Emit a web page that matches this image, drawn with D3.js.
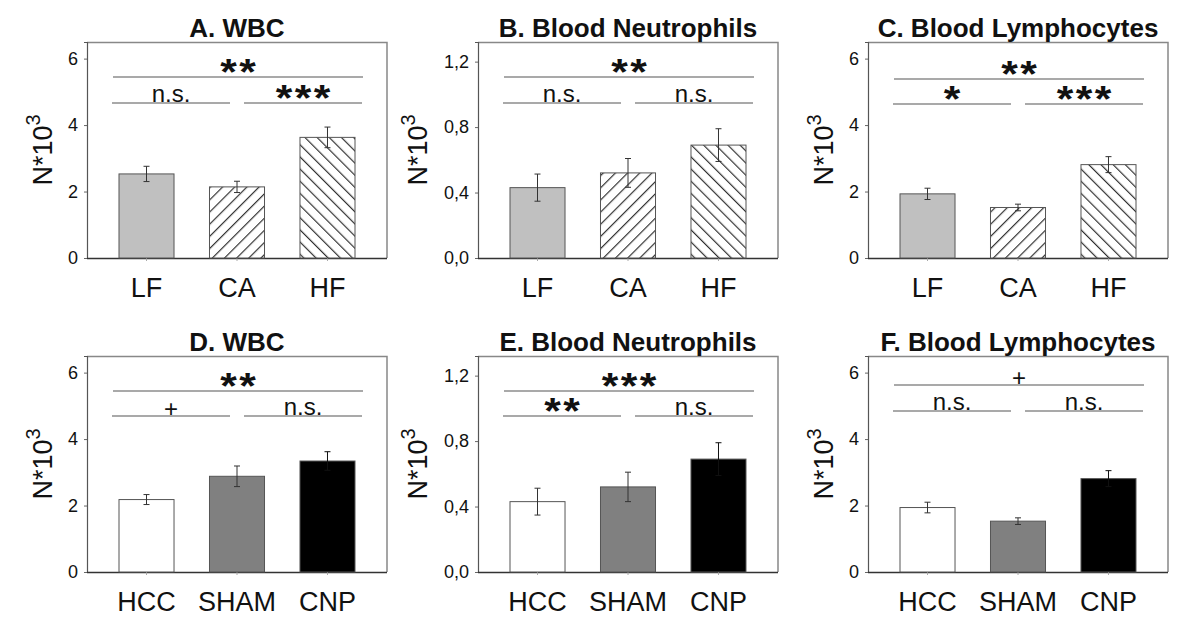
<!DOCTYPE html>
<html>
<head>
<meta charset="utf-8">
<script src="https://cdn.jsdelivr.net/npm/d3@7/dist/d3.min.js"></script>
<style>
  html, body { margin: 0; padding: 0; background: #fff; }
  svg { display: block; font-family: "Liberation Sans", Arial, Helvetica, sans-serif; }
</style>
</head>
<body>
<svg id="chart" width="1200" height="631"></svg>
<script>
// ---------------- DATA ----------------
const groupsTop = ["LF", "CA", "HF"];
const groupsBottom = ["HCC", "SHAM", "CNP"];

const wbcA = [2.53, 2.14, 3.63];
const wbcAErr = [0.23, 0.17, 0.31];
const neutB = [0.43, 0.52, 0.69];
const neutBErr = [0.083, 0.088, 0.10];
const lymC = [1.93, 1.52, 2.81];
const lymCErr = [0.17, 0.10, 0.24];

const wbcD = [2.18, 2.88, 3.34];
const wbcDErr = [0.15, 0.31, 0.28];
const neutE = [0.43, 0.52, 0.69];
const neutEErr = [0.082, 0.09, 0.10];
const lymF = [1.94, 1.53, 2.81];
const lymFErr = [0.16, 0.10, 0.24];

const ticksCount = [0, 2, 4, 6];
const ticksNeut = [0, 0.4, 0.8, 1.2];
const maxCount = 6.5;
const maxNeut = 1.32;

const titles = ["A. WBC", "B. Blood Neutrophils", "C. Blood Lymphocytes",
                "D. WBC", "E. Blood Neutrophils", "F. Blood Lymphocytes"];
// significance: [left pair, right pair, overall]
const sigA = ["n.s.", "***", "**"];
const sigB = ["n.s.", "n.s.", "**"];
const sigC = ["*", "***", "**"];
const sigD = ["+", "n.s.", "**"];
const sigE = ["**", "n.s.", "***"];
const sigF = ["n.s.", "n.s.", "+"];

const yLabel = "N*10";
const yLabelSup = "3";

// ---------------- LAYOUT ----------------
const frameLefts = [87, 478, 868];
const frameTops = [42, 356];
const frameW = 300, frameH = 216;

const panels = [
  {title: titles[0], cats: groupsTop, vals: wbcA, errs: wbcAErr, ticks: ticksCount, max: maxCount, sig: sigA, fills: ["g", "fwd", "back"], col: 0, row: 0, sigY: [61, 35]},
  {title: titles[1], cats: groupsTop, vals: neutB, errs: neutBErr, ticks: ticksNeut, max: maxNeut, sig: sigB, fills: ["g", "fwd", "back"], col: 1, row: 0, sigY: [61, 35]},
  {title: titles[2], cats: groupsTop, vals: lymC, errs: lymCErr, ticks: ticksCount, max: maxCount, sig: sigC, fills: ["g", "fwd", "back"], col: 2, row: 0, sigY: [62, 37]},
  {title: titles[3], cats: groupsBottom, vals: wbcD, errs: wbcDErr, ticks: ticksCount, max: maxCount, sig: sigD, fills: ["w", "m", "k"], col: 0, row: 1, sigY: [60, 35]},
  {title: titles[4], cats: groupsBottom, vals: neutE, errs: neutEErr, ticks: ticksNeut, max: maxNeut, sig: sigE, fills: ["w", "m", "k"], col: 1, row: 1, sigY: [60, 35]},
  {title: titles[5], cats: groupsBottom, vals: lymF, errs: lymFErr, ticks: ticksCount, max: maxCount, sig: sigF, fills: ["w", "m", "k"], col: 2, row: 1, sigY: [55, 29]}
];

const svg = d3.select("#chart");
const defs = svg.append("defs");

function hatch(id, angle) {
  const p = defs.append("pattern")
    .attr("id", id)
    .attr("patternUnits", "userSpaceOnUse")
    .attr("width", 8.6).attr("height", 8.6)
    .attr("patternTransform", `rotate(${angle})`);
  p.append("rect").attr("width", 8.6).attr("height", 8.6).attr("fill", "#fff");
  p.append("line").attr("x1", 0.6).attr("y1", 0).attr("x2", 0.6).attr("y2", 8.6)
    .attr("stroke", "#2a2a2a").attr("stroke-width", 1.15);
}
hatch("hFwd", 45);
hatch("hBack", -45);

const fillMap = {g: "#c0c0c0", fwd: "url(#hFwd)", back: "url(#hBack)", w: "#ffffff", m: "#808080", k: "#000000"};
const fmtComma = d => d3.format(".1f")(d).replace(".", ",");

panels.forEach(p => {
  const fx = frameLefts[p.col], fy = frameTops[p.row];
  const g = svg.append("g").attr("transform", `translate(${fx},${fy})`);

  const x = d3.scaleBand().domain(p.cats).range([32, 268]).paddingInner(0.392).paddingOuter(0);
  const y = d3.scaleLinear().domain([0, p.max]).range([frameH, 0]);
  const isNeut = p.max < 2;

  // frame top/right
  g.append("path").attr("d", `M0,0.5H${frameW}V${frameH}`)
    .attr("fill", "none").attr("stroke", "#888").attr("stroke-width", 1.5);

  // y axis
  const yAxis = d3.axisLeft(y).tickValues(p.ticks).tickSize(3).tickPadding(6)
    .tickFormat(isNeut ? fmtComma : d3.format("d"));
  const ya = g.append("g").call(yAxis);
  ya.select(".domain").attr("stroke", "#555").attr("stroke-width", 1.2);
  ya.selectAll(".tick line").attr("stroke", "#666");
  ya.selectAll(".tick text").attr("font-size", 18).attr("fill", "#111")
    .attr("font-family", "'Liberation Sans', Arial, sans-serif");

  // x axis
  const xAxis = d3.axisBottom(x).tickSize(3).tickPadding(0).tickFormat("");
  const xa = g.append("g").attr("transform", `translate(0,${frameH})`).call(xAxis);
  xa.select(".domain").attr("d", `M0,0.5H${frameW}`).attr("stroke", "#333").attr("stroke-width", 1.3);
  xa.selectAll(".tick line").attr("stroke", "#aaa");

  // category labels
  g.selectAll(".cat").data(p.cats).enter().append("text")
    .attr("x", d => x(d) + x.bandwidth() / 2)
    .attr("y", frameH + 39)
    .attr("text-anchor", "middle")
    .attr("font-size", 27)
    .attr("fill", "#111")
    .text(d => d);

  // bars
  g.selectAll(".bar").data(p.vals).enter().append("rect")
    .attr("x", (d, i) => x(p.cats[i]))
    .attr("y", d => y(d))
    .attr("width", x.bandwidth())
    .attr("height", d => y(0) - y(d))
    .attr("fill", (d, i) => fillMap[p.fills[i]])
    .attr("stroke", "#555")
    .attr("stroke-width", 1);

  // error bars
  p.vals.forEach((v, i) => {
    const cx = x(p.cats[i]) + x.bandwidth() / 2;
    const e = p.errs[i];
    const eg = g.append("g").attr("stroke", p.fills[i] === "k" ? "#111" : "#333").attr("stroke-width", 1);
    eg.append("line").attr("x1", cx).attr("x2", cx).attr("y1", y(v + e)).attr("y2", y(v - e));
    eg.append("line").attr("x1", cx - 3).attr("x2", cx + 3).attr("y1", y(v + e)).attr("y2", y(v + e));
    eg.append("line").attr("x1", cx - 3).attr("x2", cx + 3).attr("y1", y(v - e)).attr("y2", y(v - e));
  });

  // significance lines
  const lowY = p.sigY[0], topY = p.sigY[1];
  const segs = [
    {x1: 25, x2: 143, y: lowY, t: p.sig[0]},
    {x1: 157, x2: 275, y: lowY, t: p.sig[1]},
    {x1: 26, x2: 276, y: topY, t: p.sig[2]}
  ];
  segs.forEach(s => {
    g.append("line").attr("x1", s.x1).attr("x2", s.x2).attr("y1", s.y).attr("y2", s.y)
      .attr("stroke", "#555").attr("stroke-width", 1.2);
    const cx = (s.x1 + s.x2) / 2;
    if (s.t.indexOf("*") >= 0) {
      const fs = 37, ls = 2.2, sx = 1.15;
      g.append("text")
        .attr("transform", `translate(${cx + ls * sx / 2},${s.y + 8.4}) scale(${sx},1)`)
        .attr("text-anchor", "middle")
        .attr("font-size", fs)
        .attr("font-weight", "bold")
        .attr("letter-spacing", ls)
        .attr("fill", "#111")
        .text(s.t);
    } else {
      g.append("text")
        .attr("x", cx)
        .attr("y", s.t === "+" ? s.y + 1 : s.y - 1.5)
        .attr("text-anchor", "middle")
        .attr("font-size", 24)
        .attr("fill", "#111")
        .text(s.t);
    }
  });

  // title
  g.append("text")
    .attr("x", frameW / 2)
    .attr("y", -5)
    .attr("text-anchor", "middle")
    .attr("font-size", 26)
    .attr("font-weight", "bold")
    .attr("fill", "#111")
    .text(p.title);

  // y label
  const yl = g.append("text")
    .attr("transform", `translate(${isNeut ? -51 : -35},${frameH / 2}) rotate(-90)`)
    .attr("text-anchor", "middle")
    .attr("font-size", 27)
    .attr("fill", "#111");
  yl.append("tspan").text(yLabel);
  yl.append("tspan").attr("font-size", 20).attr("dy", -12).text(yLabelSup);
});
</script>
</body>
</html>
